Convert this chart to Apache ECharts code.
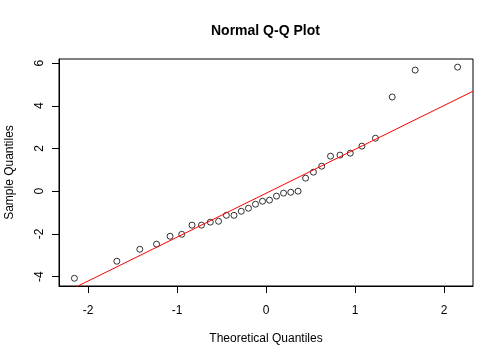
<!DOCTYPE html>
<html>
<head>
<meta charset="utf-8">
<script src="https://cdn.jsdelivr.net/npm/echarts@6/dist/echarts.min.js"></script>
<style>html,body{margin:0;padding:0;background:#fff}#c{width:504px;height:360px}</style>
</head>
<body>
<div id="c"></div>
<script>
// Theoretical quantiles (n = 32)
var theoretical = [-2.153,-1.676,-1.418,-1.230,-1.078,-0.947,-0.831,-0.725,-0.626,-0.533,-0.445,-0.360,-0.278,-0.197,-0.118,-0.039,
                   0.039,0.118,0.197,0.278,0.360,0.445,0.533,0.626,0.725,0.831,0.947,1.078,1.230,1.418,1.676,2.153];
// Sample quantiles (sorted)
var sample = [-4.08,-3.28,-2.72,-2.48,-2.11,-2.02,-1.59,-1.59,-1.45,-1.41,-1.13,-1.13,-0.94,-0.80,-0.61,-0.47,
              -0.42,-0.23,-0.09,-0.05,0.00,0.61,0.89,1.17,1.64,1.69,1.78,2.11,2.48,4.41,5.67,5.81];
var xTicks = [-2,-1,0,1,2];
var yTicks = [-4,-2,0,2,4,6];

function quantile7(arr, p){
  var h = (arr.length - 1) * p, lo = Math.floor(h);
  return arr[lo] + (h - lo) * (arr[Math.min(lo + 1, arr.length - 1)] - arr[lo]);
}
var zq = 0.6744898;
var y25 = quantile7(sample, 0.25), y75 = quantile7(sample, 0.75);
var slope = (y75 - y25) / (2 * zq);
var intercept = y25 + slope * zq;

var xMin = -2.326, xMax = 2.326, yMin = -4.44, yMax = 6.19;
var pts = theoretical.map(function(x, i){ return [x, sample[i]]; });
var lineData = [[xMin, intercept + slope * xMin], [xMax, intercept + slope * xMax]];

var font = 'Liberation Sans, Arial, sans-serif';
var chart = echarts.init(document.getElementById('c'), null, {renderer: 'canvas'});
chart.setOption({
  animation: false,
  backgroundColor: '#ffffff',
  title: {
    text: 'Normal Q-Q Plot', left: 211, top: 24, padding: 0,
    textStyle: {fontFamily: font, fontSize: 14, fontWeight: 'bold', color: '#000'}
  },
  grid: {left: 59, right: 31, top: 59, bottom: 74, show: true, borderColor: '#000', borderWidth: 1,
         containLabel: false, outerBoundsMode: 'none'},
  xAxis: {
    type: 'value', min: xMin, max: xMax,
    name: 'Theoretical Quantiles', nameLocation: 'middle', nameGap: 47,
    nameTextStyle: {fontFamily: font, fontSize: 12, color: '#000'},
    axisLine: {show: true, onZero: false, lineStyle: {color: '#000', width: 1}},
    axisTick: {show: true, length: 7, lineStyle: {color: '#000'}, customValues: xTicks},
    axisLabel: {fontFamily: font, fontSize: 12, color: '#000', margin: 19, customValues: xTicks,
      formatter: function(v){ return String(v); }},
    splitLine: {show: false}
  },
  yAxis: {
    type: 'value', min: yMin, max: yMax,
    name: 'Sample Quantiles', nameLocation: 'middle', nameGap: 43,
    nameTextStyle: {fontFamily: font, fontSize: 12, color: '#000'},
    axisLine: {show: true, onZero: false, lineStyle: {color: '#000', width: 1}},
    axisTick: {show: true, length: 7, lineStyle: {color: '#000'}, customValues: yTicks},
    axisLabel: {fontFamily: font, fontSize: 12, color: '#000', margin: 13, rotate: 90, customValues: yTicks,
      formatter: function(v){ return String(v); }},
    splitLine: {show: false}
  },
  series: [
    {type: 'scatter', data: pts, symbol: 'circle', symbolSize: 6, z: 2,
     itemStyle: {color: 'rgba(0,0,0,0)', borderColor: '#000', borderWidth: 1}},
    {type: 'line', data: lineData, symbol: 'none', clip: true, z: 3,
     lineStyle: {color: '#ff0000', width: 1}}
  ]
});
</script>
</body>
</html>
